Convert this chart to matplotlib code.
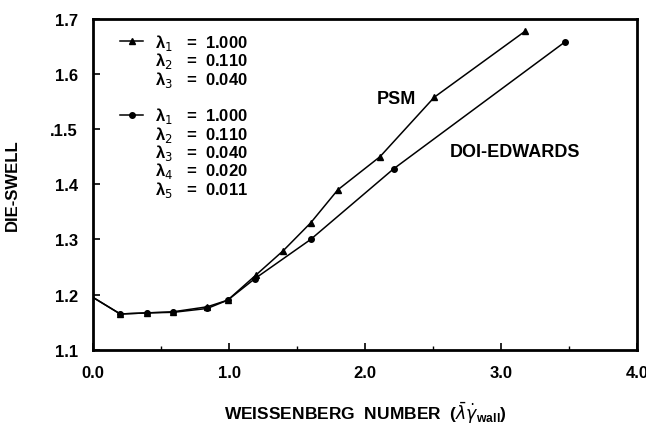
import numpy as np
import matplotlib.pyplot as plt
from matplotlib.lines import Line2D
from matplotlib.ticker import MultipleLocator

plt.rcParams['font.family'] = ['Liberation Sans', 'DejaVu Sans']
plt.rcParams['mathtext.fontset'] = 'dejavusans'

# Data
psm_x = [0.0, 0.2, 0.40, 0.59, 0.84, 0.99, 1.20, 1.40, 1.60, 1.80, 2.11, 2.51, 3.18]
psm_y = [1.195, 1.165, 1.167, 1.169, 1.178, 1.190, 1.236, 1.280, 1.330, 1.390, 1.450, 1.558, 1.678]

de_x = [0.0, 0.2, 0.40, 0.59, 0.84, 0.99, 1.19, 1.60, 2.21, 3.47]
de_y = [1.195, 1.165, 1.167, 1.168, 1.175, 1.190, 1.229, 1.300, 1.428, 1.658]

psm_labels = ["λ$_1$   =  1.000", "λ$_2$   =  0.110", "λ$_3$   =  0.040"]
de_labels = ["λ$_1$   =  1.000", "λ$_2$   =  0.110", "λ$_3$   =  0.040",
             "λ$_4$   =  0.020", "λ$_5$   =  0.011"]

yticks = [1.1, 1.2, 1.3, 1.4, 1.5, 1.6, 1.7]
ytick_labels = ["1.1", "1.2", "1.3", "1.4", ".1.5", "1.6", "1.7"]
xticks = [0.0, 1.0, 2.0, 3.0, 4.0]

fig = plt.figure(figsize=(6.46, 4.31), dpi=100)
ax = fig.add_axes([0.144, 0.186, 0.842, 0.768])

psm_line, = ax.plot(psm_x, psm_y, color='black', lw=1.1, marker='^', ms=4,
                    markevery=slice(1, None))
de_line, = ax.plot(de_x, de_y, color='black', lw=1.1, marker='o', ms=4,
                   markevery=slice(1, None))

ax.set_xlim(0, 4.0)
ax.set_ylim(1.1, 1.7)
ax.set_xticks(xticks)
ax.set_xticklabels([f"{v:.1f}" for v in xticks])
ax.xaxis.set_minor_locator(MultipleLocator(0.5))
ax.set_yticks(yticks)
ax.set_yticklabels(ytick_labels)
ax.tick_params(direction='in', length=5, width=1.2, labelsize=12, pad=11)
ax.tick_params(which='minor', direction='in', length=3, width=1)
for lab in ax.get_xticklabels() + ax.get_yticklabels():
    lab.set_fontweight('bold')
for sp in ax.spines.values():
    sp.set_linewidth(2)

ax.set_xlabel(r"WEISSENBERG  NUMBER  ($\bar{\lambda}\dot{\gamma}_{\mathregular{wall}}$)",
              fontsize=12.5, fontweight='bold', labelpad=14)
ax.set_ylabel("DIE-SWELL", fontsize=12, fontweight='bold', labelpad=22)

# legend: key on the first row of each group, blank keys on the rest;
# the spacer row reuses a label and is hidden so it keeps a full row height
blank = Line2D([], [], linestyle='none')
handles = [psm_line, blank, blank, blank] + [de_line] + [blank] * 4
labels = psm_labels + [psm_labels[-1]] + de_labels
leg = ax.legend(handles, labels, loc='upper left', bbox_to_anchor=(0.025, 1.0),
                frameon=False, prop={'weight': 'bold', 'size': 12},
                handlelength=1.4, handletextpad=0.7, labelspacing=-0.1,
                borderaxespad=0.4)
leg.get_texts()[3].set_visible(False)

ax.text(2.09, 1.555, "PSM", fontsize=13, fontweight='bold', ha='left', va='center')
ax.text(2.625, 1.459, "DOI-EDWARDS", fontsize=13, fontweight='bold', ha='left', va='center')

fig.savefig("out.png", dpi=100)
